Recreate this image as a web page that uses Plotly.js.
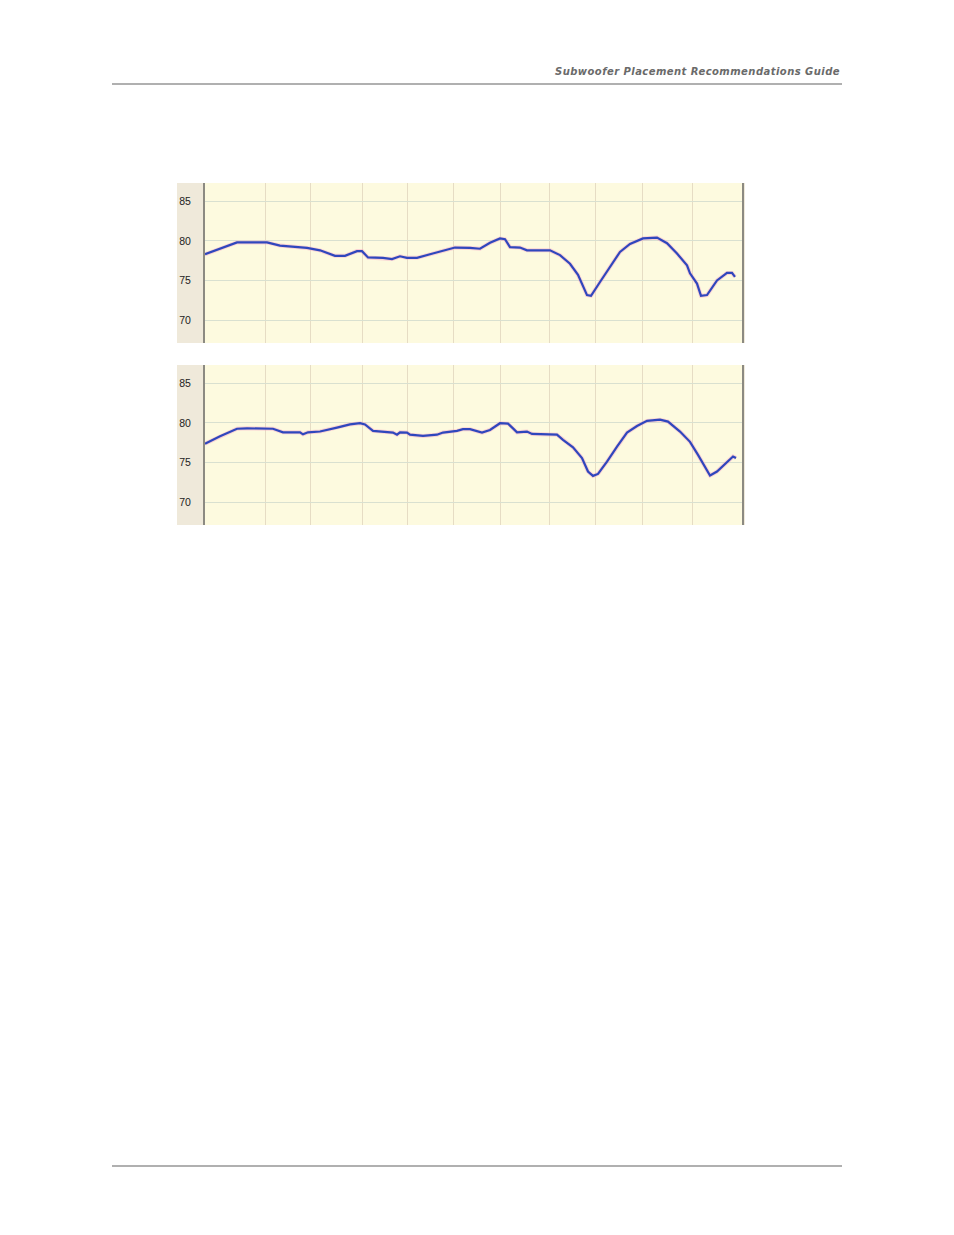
<!DOCTYPE html>
<html>
<head>
<meta charset="utf-8">
<script src="https://cdn.plot.ly/plotly-3.0.1.min.js"></script>
<style>
  html, body { margin: 0; padding: 0; background: #ffffff; }
  #page { position: relative; width: 954px; height: 1235px; background: #ffffff; overflow: hidden; }
  #header { position: absolute; right: 114px; top: 66px; font-family: "DejaVu Sans", sans-serif; font-style: italic; font-weight: bold; font-size: 10px; letter-spacing: 0.45px; color: #6a6a6a; white-space: nowrap; }
  .rule { position: absolute; left: 112px; width: 730px; height: 2px; background: #b0b0b0; }
  #chart1 { position: absolute; left: 177px; top: 183px; width: 568px; height: 160px; }
  #chart2 { position: absolute; left: 177px; top: 365px; width: 568px; height: 160px; }
</style>
</head>
<body>
<div id="page">
  <div id="header">Subwoofer Placement Recommendations Guide</div>
  <div class="rule" style="top:83px;"></div>
  <div id="chart1"></div>
  <div id="chart2"></div>
  <div class="rule" style="top:1165px;"></div>
</div>
<script>
// Measurement position along the frequency axis (plot units, 0 = left axis)
const topX = [0, 15, 32, 62, 75, 102, 115, 130, 140, 152, 157, 163, 178, 187, 195, 202, 212, 225, 238, 250, 265,
  275, 285, 295, 300, 305, 315, 322, 345, 355, 365, 373, 382, 386, 395, 405, 415, 425, 438, 452, 462, 472, 482, 485, 492, 496, 502, 512, 522, 527, 530];
const topDb = [78.3, 79.0, 79.8, 79.8, 79.4, 79.1, 78.8, 78.1, 78.1, 78.7, 78.7, 77.9, 77.85, 77.7, 78.05, 77.85, 77.85, 78.3, 78.7, 79.15, 79.1,
  79.0, 79.75, 80.3, 80.2, 79.2, 79.15, 78.8, 78.8, 78.2, 77.1, 75.7, 73.15, 73.05, 74.8, 76.7, 78.6, 79.6, 80.3, 80.4, 79.7, 78.4, 76.9, 75.9, 74.6, 73.05, 73.15, 75.0, 75.95, 75.95, 75.45];

const botX = [0, 15, 32, 42, 68, 78, 95, 98, 103, 115, 132, 145, 155, 160, 168, 188, 192, 195, 202, 205, 218, 232, 238, 252, 258, 265,
  277, 285, 295, 303, 308, 312, 322, 327, 352, 358, 368, 377, 383, 388, 393, 402, 412, 422, 432, 442, 455, 463, 475, 485, 493, 500, 505, 512, 522, 528, 531];
const botDb = [77.35, 78.3, 79.25, 79.3, 79.25, 78.8, 78.8, 78.55, 78.8, 78.9, 79.4, 79.8, 79.95, 79.8, 78.98, 78.77, 78.5, 78.8, 78.77, 78.5, 78.35, 78.5, 78.77, 78.98, 79.2, 79.2,
  78.77, 79.1, 79.95, 79.9, 79.3, 78.8, 78.9, 78.6, 78.5, 77.85, 76.9, 75.55, 73.85, 73.3, 73.55, 75.1, 77.0, 78.77, 79.6, 80.25, 80.4, 80.15, 78.9, 77.6, 75.95, 74.5, 73.35, 73.85, 75.1, 75.75, 75.55];

const dbTicks = [70, 75, 80, 85];
const dbTickLabels = ['70', '75', '80', '85'];
const freqGrid = [60, 105, 157, 202, 248, 295, 344, 390, 437, 487];

function makeChart(id, xs, ys) {
  const halo = { x: xs, y: ys, mode: 'lines', line: { color: 'rgba(245,160,195,0.45)', width: 4 }, hoverinfo: 'skip', showlegend: false };
  const line = { x: xs, y: ys, mode: 'lines', line: { color: '#2f47bd', width: 2.2 }, showlegend: false };
  const layout = {
    width: 568, height: 160,
    margin: { l: 28, r: 3, t: 0, b: 0, pad: 0 },
    paper_bgcolor: '#efe9da',
    plot_bgcolor: '#fdfadf',
    showlegend: false,
    xaxis: {
      range: [0, 537], tickmode: 'array', tickvals: freqGrid, showticklabels: false,
      showgrid: true, gridcolor: '#e6dcc4', gridwidth: 1, zeroline: false, showline: false, ticks: ''
    },
    yaxis: {
      range: [67.1, 87.3], tickmode: 'array', tickvals: dbTicks, ticktext: dbTickLabels,
      showgrid: true, gridcolor: '#d9e0d0', gridwidth: 1, zeroline: false,
      showline: true, linecolor: '#8c8a82', linewidth: 2, mirror: true,
      ticks: '', ticklabelstandoff: 10,
      tickfont: { family: 'Liberation Sans, Arial, sans-serif', size: 10.5, color: '#222222' }
    }
  };
  Plotly.newPlot(id, [halo, line], layout, { staticPlot: true, displayModeBar: false });
}

makeChart('chart1', topX, topDb);
makeChart('chart2', botX, botDb);
</script>
</body>
</html>
